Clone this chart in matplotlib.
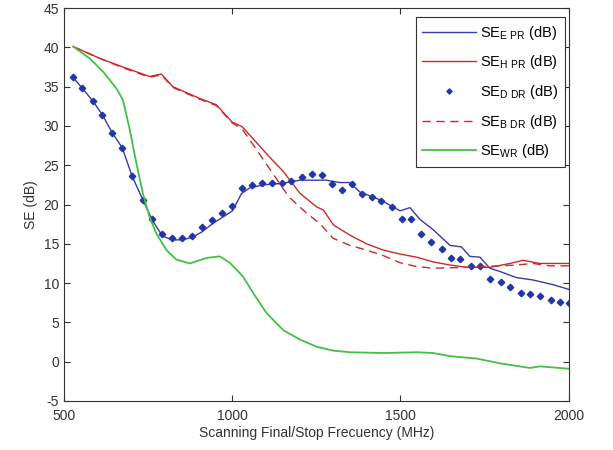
import numpy as np
from matplotlib import pyplot as plt

plt.rcParams['font.family'] = ['Liberation Sans', 'DejaVu Sans']
plt.rcParams['mathtext.default'] = 'regular'
plt.rcParams['axes.unicode_minus'] = False

# SE_E PR (blue solid)
e_pr_x = [527, 555, 586, 615, 643, 674, 703, 735, 763, 793, 822, 851, 880, 910, 940,
          1001, 1028, 1052, 1092, 1151, 1201, 1280, 1319, 1349, 1379, 1439, 1499, 1528,
          1558, 1597, 1647, 1681, 1706, 1736, 1765, 1794, 1844, 1893, 1953, 2000]
e_pr_y = [36.2, 34.8, 33.2, 31.4, 29.2, 27.2, 23.6, 20.6, 18.0, 16.0, 15.5, 15.5, 15.8, 16.5, 17.5,
          19.2, 21.4, 22.1, 22.5, 22.7, 23.1, 23.1, 22.8, 22.8, 21.6, 20.6, 19.2, 19.6,
          18.1, 16.8, 14.8, 14.6, 13.4, 13.3, 11.9, 11.5, 10.7, 10.4, 9.8, 9.2]

# SE_H PR (red solid)
h_pr_x = [528, 607, 676, 755, 790, 824, 904, 953, 1000, 1030, 1110, 1152, 1202, 1251, 1271,
          1301, 1350, 1399, 1449, 1498, 1548, 1597, 1647, 1696, 1765, 1825, 1864, 1914, 1963, 2000]
h_pr_y = [40.1, 38.6, 37.5, 36.3, 36.6, 35.0, 33.5, 32.7, 30.5, 29.9, 26.1, 24.2, 21.4, 19.7, 19.3,
          17.4, 16.1, 15.0, 14.2, 13.7, 13.3, 12.7, 12.3, 12.0, 12.0, 12.5, 12.9, 12.5, 12.5, 12.5]

# SE_D DR (blue diamonds)
d_dr_x = [528, 555, 586, 615, 643, 674, 703, 735, 763, 793, 822, 851, 880, 910, 940, 969,
          999, 1028, 1058, 1088, 1118, 1147, 1175, 1207, 1236, 1267, 1296, 1327, 1355, 1385,
          1415, 1443, 1476, 1504, 1530, 1562, 1590, 1622, 1649, 1677, 1709, 1736, 1765, 1797,
          1826, 1858, 1886, 1914, 1946, 1973, 2000]
d_dr_y = [36.2, 34.8, 33.2, 31.4, 29.1, 27.2, 23.6, 20.6, 18.1, 16.2, 15.7, 15.7, 16.0, 17.2,
          18.0, 18.9, 19.8, 22.1, 22.5, 22.8, 22.8, 22.7, 23.0, 23.5, 23.9, 23.8, 22.6, 21.9,
          22.6, 21.4, 21.0, 20.5, 19.7, 18.1, 18.1, 16.2, 15.2, 14.4, 13.2, 13.1, 12.2, 12.2,
          10.5, 10.2, 9.5, 8.8, 8.6, 8.4, 7.9, 7.6, 7.5]

# SE_B DR (red dashed)
b_dr_x = [528, 607, 676, 755, 790, 824, 904, 953, 1000, 1030, 1074, 1128, 1168, 1221, 1260,
          1300, 1350, 1399, 1449, 1498, 1548, 1597, 1696, 1794, 1844, 1893, 1943, 2000]
b_dr_y = [40.1, 38.6, 37.4, 36.2, 36.5, 34.9, 33.4, 32.6, 30.4, 29.6, 26.9, 23.5, 21.0, 18.9, 17.6,
          15.7, 14.8, 14.2, 13.5, 12.6, 12.1, 11.9, 12.0, 12.2, 12.3, 12.5, 12.2, 12.2]

# SE_WR (green)
wr_x = [528, 577, 617, 656, 676, 696, 716, 735, 755, 775, 805, 834, 874, 924, 963, 993,
        1033, 1063, 1102, 1152, 1202, 1251, 1301, 1350, 1449, 1548, 1597, 1647, 1726, 1794,
        1884, 1914, 2000]
wr_y = [40.1, 38.6, 36.9, 34.8, 33.3, 29.5, 25.2, 21.4, 18.4, 16.3, 14.2, 13.0, 12.5, 13.2, 13.4, 12.6,
        10.8, 8.7, 6.2, 4.0, 2.8, 1.9, 1.4, 1.2, 1.1, 1.2, 1.1, 0.7, 0.4, -0.2,
        -0.8, -0.6, -0.9]

fig = plt.figure(figsize=(6.13, 4.5), dpi=100)
ax = fig.add_axes([0.104, 0.109, 0.824, 0.873])

ax.plot(e_pr_x, e_pr_y, '-', color='#3a3aa8', lw=1.0, label=r'SE$_{E\ PR}$ (dB)')
ax.plot(h_pr_x, h_pr_y, '-', color='#cc2a2a', lw=1.0, label=r'SE$_{H\ PR}$ (dB)')
ax.plot(d_dr_x, d_dr_y, 'D', color='#2236a8', markersize=3.3, lw=0, label=r'SE$_{D\ DR}$ (dB)')
ax.plot(b_dr_x, b_dr_y, '--', color='#cc2a2a', lw=1.0, dashes=(6, 4), label=r'SE$_{B\ DR}$ (dB)')
ax.plot(wr_x, wr_y, '-', color='#44c044', lw=1.3, label=r'SE$_{WR}$ (dB)')

ax.set_xlim(500, 2000)
ax.set_ylim(-5, 45)
ax.set_xticks([500, 1000, 1500, 2000])
ax.set_yticks(np.arange(-5, 46, 5))
ax.tick_params(direction='in', top=True, right=True, labelsize=10, length=4, colors='#333333')
ax.tick_params(axis='x', pad=6)
for s in ax.spines.values():
    s.set_color('#333333')

ax.set_xlabel('Scanning Final/Stop Frecuency (MHz)', fontsize=10, color='#333333', labelpad=2)
ax.set_ylabel('SE (dB)', fontsize=10, color='#333333')

leg = ax.legend(loc='upper right', bbox_to_anchor=(1 - 4 / 505, 1 - 9 / 393), borderaxespad=0,
                fontsize=10.5, fancybox=False, edgecolor='#333333', framealpha=1,
                handlelength=3.7, handletextpad=0.25, borderpad=0.45, labelspacing=0.8,
                markerscale=0.8)
leg.get_frame().set_linewidth(0.8)

fig.savefig('out.png', dpi=100)
